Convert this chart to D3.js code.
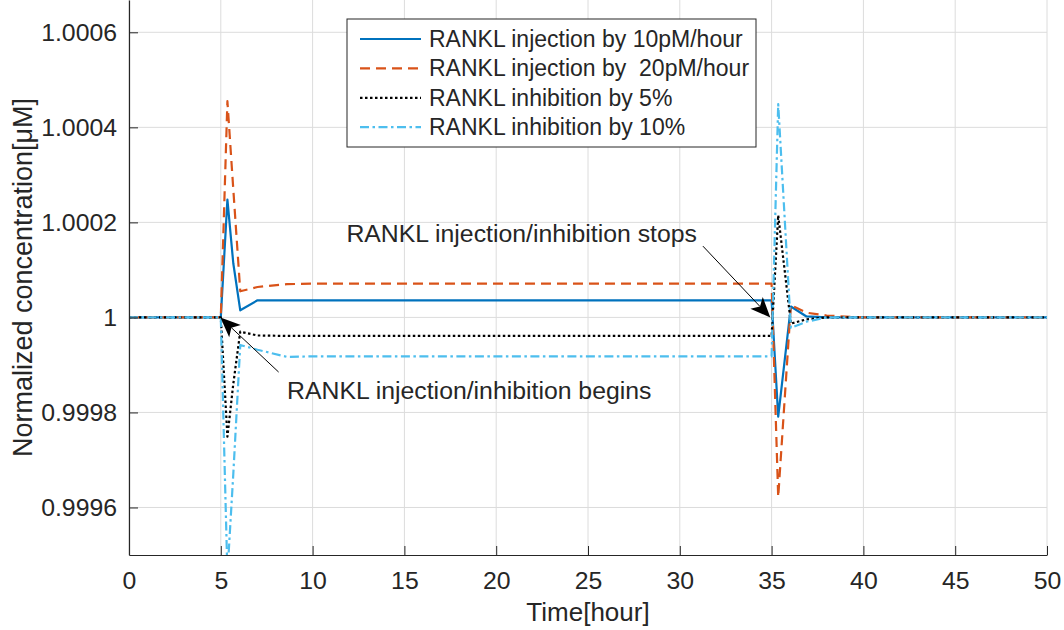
<!DOCTYPE html>
<html>
<head>
<meta charset="utf-8">
<script src="https://cdn.jsdelivr.net/npm/d3@7"></script>
<style>
  body { margin: 0; background: #fff; }
  text { font-family: "Liberation Sans", Arial, sans-serif; fill: #262626; }
</style>
</head>
<body>
<div id="chart"></div>
<script>
// time points of the simulation output (hours)
var time  = [0, 5, 5.36, 5.68, 6.06, 7, 8.6, 10, 35, 35.36, 36.05, 36.9, 38, 40, 50];
// normalized RANKL concentration for each scenario
var inj10 = [1, 1, 1.000248, 1.000114, 1.000015, 1.000036, 1.000036, 1.000036, 1.000036, 0.999791, 1.000023, 1.000002, 1, 1, 1];
var inj20 = [1, 1, 1.000455, 1.000270, 1.000055, 1.000064, 1.000070, 1.000071, 1.000071, 0.999622, 1.000026, 1.000010, 1.000004, 1, 1];
var inh5  = [1, 1, 0.999749, 0.999860, 0.999970, 0.999962, 0.999961, 0.999961, 0.999961, 1.000215, 0.999987, 0.999996, 1, 1, 1];
var inh10 = [1, 1, 0.999460, 0.999670, 0.999942, 0.999932, 0.999917, 0.999918, 0.999918, 1.000449, 0.999978, 0.999991, 1, 1, 1];

var seriesNames = ["RANKL injection by 10pM/hour", "RANKL injection by  20pM/hour",
                   "RANKL inhibition by 5%", "RANKL inhibition by 10%"];
var xTicks = [0, 5, 10, 15, 20, 25, 30, 35, 40, 45, 50];
var yTicks = [0.9996, 0.9998, 1, 1.0002, 1.0004, 1.0006];
var yTickLabels = ["0.9996", "0.9998", "1", "1.0002", "1.0004", "1.0006"];

// annotations (data coordinates)
var noteLabels = ["RANKL injection/inhibition begins", "RANKL injection/inhibition stops"];
var noteAt = [[8.61, 0.999847], [11.84, 1.000178]];
var arrowFrom = [[8.15, 0.999885], [31.26, 1.00015]];
var arrowTo = [[4.98, 1.0], [34.93, 1.0]];

function draw() {
  var width = 1064, height = 630;
  var margin = { top: 0, right: 17, bottom: 75, left: 129 };
  var innerW = width - margin.left - margin.right;
  var innerH = height - margin.top - margin.bottom;

  var x = d3.scaleLinear().domain([0, 50]).range([0, innerW]);
  var y = d3.scaleLinear().domain([0.9995, 1.000668]).range([innerH, 0]);

  var styles = [
    { color: "#0072BD", dash: null },
    { color: "#D95319", dash: "10,6" },
    { color: "#000000", dash: "2.5,2.5" },
    { color: "#4DBEEE", dash: "9,3.5,2.5,3.5" }
  ];
  var series = [inj10, inj20, inh5, inh10];

  var svg = d3.select("#chart").append("svg")
    .attr("width", width).attr("height", height);
  var g = svg.append("g").attr("transform", "translate(" + margin.left + "," + margin.top + ")");

  svg.append("defs").append("clipPath").attr("id", "plotclip")
    .append("rect").attr("width", innerW).attr("height", innerH);

  // grid
  g.append("g").selectAll("line").data(xTicks).enter().append("line")
    .attr("x1", function(d) { return x(d); }).attr("x2", function(d) { return x(d); })
    .attr("y1", 0).attr("y2", innerH)
    .attr("stroke", "#dcdcdc").attr("stroke-width", 1);
  g.append("g").selectAll("line").data(yTicks).enter().append("line")
    .attr("y1", function(d) { return y(d); }).attr("y2", function(d) { return y(d); })
    .attr("x1", 0).attr("x2", innerW)
    .attr("stroke", "#dcdcdc").attr("stroke-width", 1);

  // lines
  var line = d3.line()
    .x(function(d) { return x(d[0]); })
    .y(function(d) { return y(d[1]); });
  var plot = g.append("g").attr("clip-path", "url(#plotclip)");
  series.forEach(function(vals, i) {
    var pts = time.map(function(t, k) { return [t, vals[k]]; });
    plot.append("path").datum(pts)
      .attr("d", line)
      .attr("fill", "none")
      .attr("stroke", styles[i].color)
      .attr("stroke-width", 2.2)
      .attr("stroke-dasharray", styles[i].dash)
      .attr("stroke-linejoin", "round");
  });

  // axes
  var xAxis = d3.axisBottom(x).tickValues(xTicks).tickSizeInner(-9).tickSizeOuter(0).tickPadding(16);
  var yAxis = d3.axisLeft(y).tickValues(yTicks).tickSizeInner(-9).tickSizeOuter(0).tickPadding(12)
    .tickFormat(function(d, i) { return yTickLabels[i]; });

  var gx = g.append("g").attr("transform", "translate(0," + innerH + ")").call(xAxis);
  var gy = g.append("g").call(yAxis);
  [gx, gy].forEach(function(ax) {
    ax.select(".domain").attr("stroke", "#262626").attr("stroke-width", 1.2);
    ax.selectAll(".tick line").attr("stroke", "#262626").attr("stroke-width", 1);
    ax.selectAll(".tick text").attr("font-size", "24.8px").attr("fill", "#262626")
      .style("font-family", '"Liberation Sans", Arial, sans-serif');
  });

  g.append("text")
    .attr("x", innerW / 2).attr("y", innerH + 66)
    .attr("text-anchor", "middle").attr("font-size", "26px")
    .text("Time[hour]");
  g.append("text")
    .attr("transform", "translate(" + (-97) + "," + (innerH / 2) + ") rotate(-90)")
    .attr("text-anchor", "middle").attr("font-size", "27px")
    .text("Normalized concentration[μM]");

  // annotation arrows
  noteLabels.forEach(function(label, i) {
    var x0 = x(arrowFrom[i][0]), y0 = y(arrowFrom[i][1]);
    var x1 = x(arrowTo[i][0]), y1 = y(arrowTo[i][1]);
    var ang = Math.atan2(y1 - y0, x1 - x0);
    var len = 20, half = 8.5, notch = 15;
    var ux = Math.cos(ang), uy = Math.sin(ang), px = -uy, py = ux;
    var bx = x1 - ux * len, by = y1 - uy * len;
    var nx = x1 - ux * notch, ny = y1 - uy * notch;
    g.append("line")
      .attr("x1", x0).attr("y1", y0).attr("x2", nx).attr("y2", ny)
      .attr("stroke", "#000").attr("stroke-width", 1);
    g.append("path")
      .attr("d", "M" + x1 + "," + y1 +
        "L" + (bx + px * half) + "," + (by + py * half) +
        "L" + nx + "," + ny +
        "L" + (bx - px * half) + "," + (by - py * half) + "Z")
      .attr("fill", "#000");
    g.append("text")
      .attr("x", x(noteAt[i][0])).attr("y", y(noteAt[i][1]) + 9)
      .attr("font-size", "24.8px").attr("fill", "#000")
      .text(label);
  });

  // legend
  var lg = svg.append("g").attr("transform", "translate(347,19)");
  lg.append("rect").attr("width", 409).attr("height", 128)
    .attr("fill", "#fff").attr("stroke", "#262626").attr("stroke-width", 1);
  seriesNames.forEach(function(name, i) {
    var yy = 20 + i * 29.4;
    lg.append("line").attr("x1", 13).attr("x2", 74).attr("y1", yy).attr("y2", yy)
      .attr("stroke", styles[i].color).attr("stroke-width", 2.2)
      .attr("stroke-dasharray", styles[i].dash);
    lg.append("text").attr("x", 82).attr("y", yy + 8)
      .attr("font-size", "23px").attr("fill", "#000")
      .style("white-space", "pre")
      .text(name);
  });
}

draw();
</script>
</body>
</html>
